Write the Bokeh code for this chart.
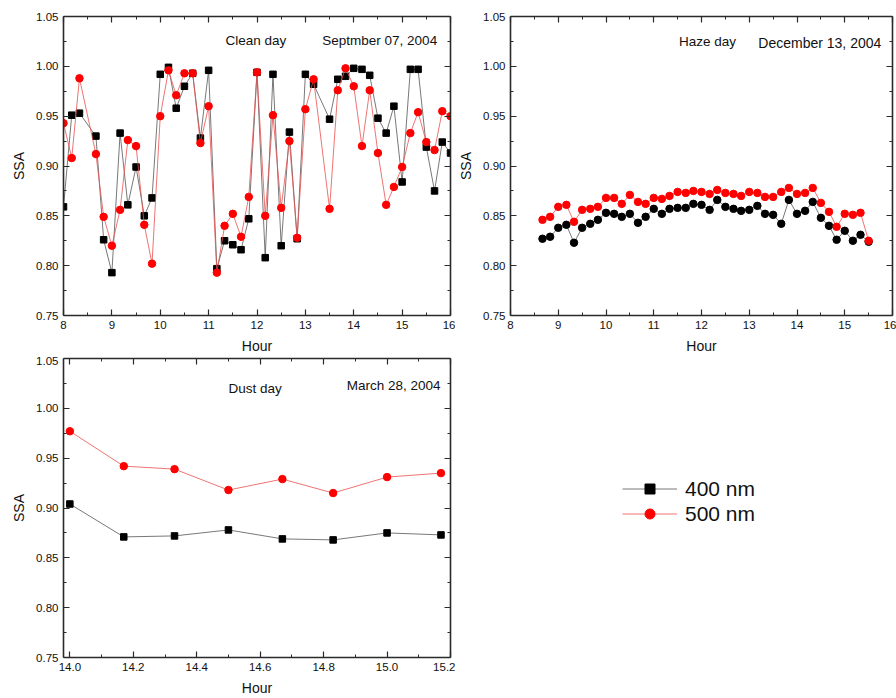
from bokeh.plotting import figure
from bokeh.models import (LinearAxis, FixedTicker, Range1d, Label, Legend,
                          LegendItem, PrintfTickFormatter, ColumnDataSource,
                          CustomJSTickFormatter)
from bokeh.layouts import column, row
from bokeh.embed import file_html
from bokeh.resources import INLINE

FONT = "Liberation Sans"

# ---------------- data ----------------
clean_hours = [8.00, 8.17, 8.33, 8.67, 8.83, 9.00, 9.17, 9.33, 9.50, 9.67, 9.83,
               10.00, 10.17, 10.33, 10.50, 10.67, 10.83, 11.00, 11.17, 11.33, 11.50,
               11.67, 11.83, 12.00, 12.17, 12.33, 12.50, 12.67, 12.83, 13.00, 13.17,
               13.50, 13.67, 13.83, 14.00, 14.17, 14.33, 14.50, 14.67, 14.83, 15.00,
               15.17, 15.33, 15.50, 15.67, 15.83, 16.00]
clean_400 = [0.859, 0.951, 0.953, 0.930, 0.826, 0.793, 0.933, 0.861, 0.899, 0.850,
             0.868, 0.992, 0.999, 0.958, 0.980, 0.993, 0.928, 0.996, 0.797, 0.825,
             0.821, 0.816, 0.847, 0.994, 0.808, 0.992, 0.820, 0.934, 0.827, 0.992,
             0.982, 0.947, 0.987, 0.990, 0.998, 0.997, 0.991, 0.948, 0.933, 0.960,
             0.884, 0.997, 0.997, 0.919, 0.875, 0.924, 0.913]
clean_500 = [0.943, 0.908, 0.988, 0.912, 0.849, 0.820, 0.856, 0.926, 0.920, 0.841,
             0.802, 0.950, 0.996, 0.971, 0.993, 0.993, 0.923, 0.960, 0.793, 0.840,
             0.852, 0.829, 0.869, 0.994, 0.850, 0.951, 0.858, 0.925, 0.828, 0.957,
             0.987, 0.857, 0.976, 0.998, 0.980, 0.920, 0.976, 0.913, 0.861, 0.879,
             0.899, 0.933, 0.954, 0.924, 0.916, 0.955, 0.950]

haze_hours = [8.67, 8.83, 9.00, 9.17, 9.33, 9.50, 9.67, 9.83, 10.00, 10.17, 10.33,
              10.50, 10.67, 10.83, 11.00, 11.17, 11.33, 11.50, 11.67, 11.83, 12.00,
              12.17, 12.33, 12.50, 12.67, 12.83, 13.00, 13.17, 13.33, 13.50, 13.67,
              13.83, 14.00, 14.17, 14.33, 14.50, 14.67, 14.83, 15.00, 15.17, 15.33,
              15.50]
haze_400 = [0.827, 0.829, 0.838, 0.841, 0.823, 0.838, 0.842, 0.846, 0.853, 0.852,
            0.849, 0.852, 0.843, 0.849, 0.857, 0.852, 0.857, 0.858, 0.858, 0.862,
            0.861, 0.856, 0.866, 0.859, 0.857, 0.855, 0.856, 0.860, 0.852, 0.851,
            0.842, 0.866, 0.852, 0.855, 0.864, 0.848, 0.840, 0.826, 0.835, 0.825,
            0.831, 0.824]
haze_500 = [0.846, 0.849, 0.859, 0.861, 0.844, 0.856, 0.857, 0.859, 0.868, 0.868,
            0.862, 0.871, 0.864, 0.862, 0.868, 0.867, 0.870, 0.874, 0.873, 0.875,
            0.874, 0.872, 0.876, 0.873, 0.872, 0.870, 0.874, 0.873, 0.869, 0.869,
            0.874, 0.878, 0.872, 0.873, 0.878, 0.863, 0.854, 0.839, 0.852, 0.851,
            0.853, 0.825]

dust_hours = [14.00, 14.17, 14.33, 14.50, 14.67, 14.83, 15.00, 15.17]
dust_400 = [0.904, 0.871, 0.872, 0.878, 0.869, 0.868, 0.875, 0.873]
dust_500 = [0.977, 0.942, 0.939, 0.918, 0.929, 0.915, 0.931, 0.935]

y_ticks = [0.75, 0.80, 0.85, 0.90, 0.95, 1.00, 1.05]
y_minor = [0.775, 0.825, 0.875, 0.925, 0.975, 1.025]
hour_ticks = [8, 9, 10, 11, 12, 13, 14, 15, 16]
hour_minor = [8.5, 9.5, 10.5, 11.5, 12.5, 13.5, 14.5, 15.5]
dust_ticks = [14.0, 14.2, 14.4, 14.6, 14.8, 15.0, 15.2]
dust_minor = [14.1, 14.3, 14.5, 14.7, 14.9, 15.1]

series_labels = ["400 nm", "500 nm"]

BLACK_LINE = "#555555"
RED_LINE = "#e8504f"
AXIS_COLOR = "#2a2a2a"


def style_axis(ax, ticks, minor, fmt, labels=True, axis_label=None):
    ax.ticker = FixedTicker(ticks=ticks, minor_ticks=minor)
    ax.major_tick_in = 6
    ax.major_tick_out = 0
    ax.minor_tick_in = 3
    ax.minor_tick_out = 0
    ax.axis_line_width = 1.6
    ax.axis_line_color = AXIS_COLOR
    ax.major_tick_line_color = AXIS_COLOR
    ax.minor_tick_line_color = AXIS_COLOR
    ax.major_tick_line_width = 1.2
    ax.minor_tick_line_width = 1.0
    if labels:
        ax.formatter = PrintfTickFormatter(format=fmt)
        ax.major_label_text_font = FONT
        ax.major_label_text_font_size = "11.5px"
        ax.major_label_text_color = "#111111"
        ax.major_label_standoff = 5
        ax.axis_label = axis_label
        ax.axis_label_text_font = FONT
        ax.axis_label_text_font_size = "14px"
        ax.axis_label_text_font_style = "normal"
        ax.axis_label_text_color = "#111111"
        ax.axis_label_standoff = 6
    else:
        ax.formatter = CustomJSTickFormatter(code="return '';")
        ax.major_label_standoff = 0
        ax.axis_label = None


def make_panel(width, height, xr, xticks, xminor, xfmt, borders):
    left, right, top, bottom = borders
    p = figure(width=width, height=height, x_range=Range1d(*xr),
               y_range=Range1d(0.75, 1.05), output_backend="svg",
               toolbar_location=None, min_border_left=left,
               min_border_right=right, min_border_top=top,
               min_border_bottom=bottom)
    p.xgrid.visible = False
    p.ygrid.visible = False
    p.outline_line_color = None
    style_axis(p.xaxis[0], xticks, xminor, xfmt, True, "Hour")
    style_axis(p.yaxis[0], y_ticks, y_minor, "%.2f", True, "SSA")
    top_ax = LinearAxis()
    style_axis(top_ax, xticks, xminor, xfmt, False)
    p.add_layout(top_ax, "above")
    right_ax = LinearAxis()
    style_axis(right_ax, y_ticks, y_minor, "%.2f", False)
    p.add_layout(right_ax, "right")
    return p


def add_label(p, x, y, text, size="13.5px"):
    p.add_layout(Label(x=x, y=y, text=text, text_font=FONT, text_font_size=size,
                       text_baseline="middle", text_color="#111111"))


# ---------------- clean day ----------------
pa = make_panel(455, 356, (8, 16), hour_ticks, hour_minor, "%d", (63, 5, 16, 40))
src_a = ColumnDataSource(dict(h=clean_hours, a=clean_400, b=clean_500))
pa.line("h", "a", source=src_a, line_color=BLACK_LINE, line_width=0.8)
pa.scatter("h", "a", source=src_a, marker="square", size=6.5,
           fill_color="black", line_color="black")
pa.line("h", "b", source=src_a, line_color=RED_LINE, line_width=0.8)
pa.scatter("h", "b", source=src_a, marker="circle", size=7.5,
           fill_color="red", line_color="red")
add_label(pa, 11.35, 1.026, "Clean day")
add_label(pa, 13.35, 1.026, "Septmber 07, 2004")

# ---------------- haze day ----------------
pb = make_panel(441, 356, (8, 16), hour_ticks, hour_minor, "%d", (50, 4, 16, 40))
src_b = ColumnDataSource(dict(h=haze_hours, a=haze_400, b=haze_500))
pb.line("h", "a", source=src_b, line_color=BLACK_LINE, line_width=0.8)
pb.scatter("h", "a", source=src_b, marker="circle", size=7.5,
           fill_color="black", line_color="black")
pb.line("h", "b", source=src_b, line_color=RED_LINE, line_width=0.8)
pb.scatter("h", "b", source=src_b, marker="circle", size=7.5,
           fill_color="red", line_color="red")
add_label(pb, 11.53, 1.025, "Haze day")
add_label(pb, 13.19, 1.023, "December 13, 2004", "14px")

# ---------------- dust day ----------------
pc = make_panel(455, 342, (13.98, 15.2), dust_ticks, dust_minor, "%.1f", (63, 5, 2, 41))
src_c = ColumnDataSource(dict(h=dust_hours, a=dust_400, b=dust_500))
pc.line("h", "a", source=src_c, line_color=BLACK_LINE, line_width=0.8)
pc.scatter("h", "a", source=src_c, marker="square", size=6.5,
           fill_color="black", line_color="black")
pc.line("h", "b", source=src_c, line_color=RED_LINE, line_width=0.8)
pc.scatter("h", "b", source=src_c, marker="circle", size=7.5,
           fill_color="red", line_color="red")
add_label(pc, 14.50, 1.0196, "Dust day")
add_label(pc, 14.873, 1.023, "March 28, 2004")

# ---------------- legend panel ----------------
pl = figure(width=441, height=342, x_range=Range1d(0, 1), y_range=Range1d(0, 1),
            output_backend="svg", toolbar_location=None, min_border=0)
pl.axis.visible = False
pl.xgrid.visible = False
pl.ygrid.visible = False
pl.outline_line_color = None
# sample sources sit outside the visible range; only the legend glyphs show
key_src = ColumnDataSource(dict(x=[5, 6], y=[5, 6]))
l1 = pl.line("x", "y", source=key_src, line_color=BLACK_LINE, line_width=0.8)
s1 = pl.scatter("x", "y", source=key_src, marker="square", size=9,
                fill_color="black", line_color="black")
l2 = pl.line("x", "y", source=key_src, line_color=RED_LINE, line_width=0.8)
s2 = pl.scatter("x", "y", source=key_src, marker="circle", size=10,
                fill_color="red", line_color="red")
legend = Legend(items=[LegendItem(label=series_labels[0], renderers=[l1, s1]),
                       LegendItem(label=series_labels[1], renderers=[l2, s2])],
                location=(167, 131), padding=0, margin=0, spacing=0,
                glyph_width=55, glyph_height=25, label_height=25,
                label_standoff=8, label_text_font=FONT,
                label_text_font_size="21px", label_text_color="#111111",
                border_line_color=None, background_fill_alpha=0)
pl.add_layout(legend)

layout = column(row(pa, pb), row(pc, pl))
open("out.html", "w").write(file_html(layout, INLINE))
